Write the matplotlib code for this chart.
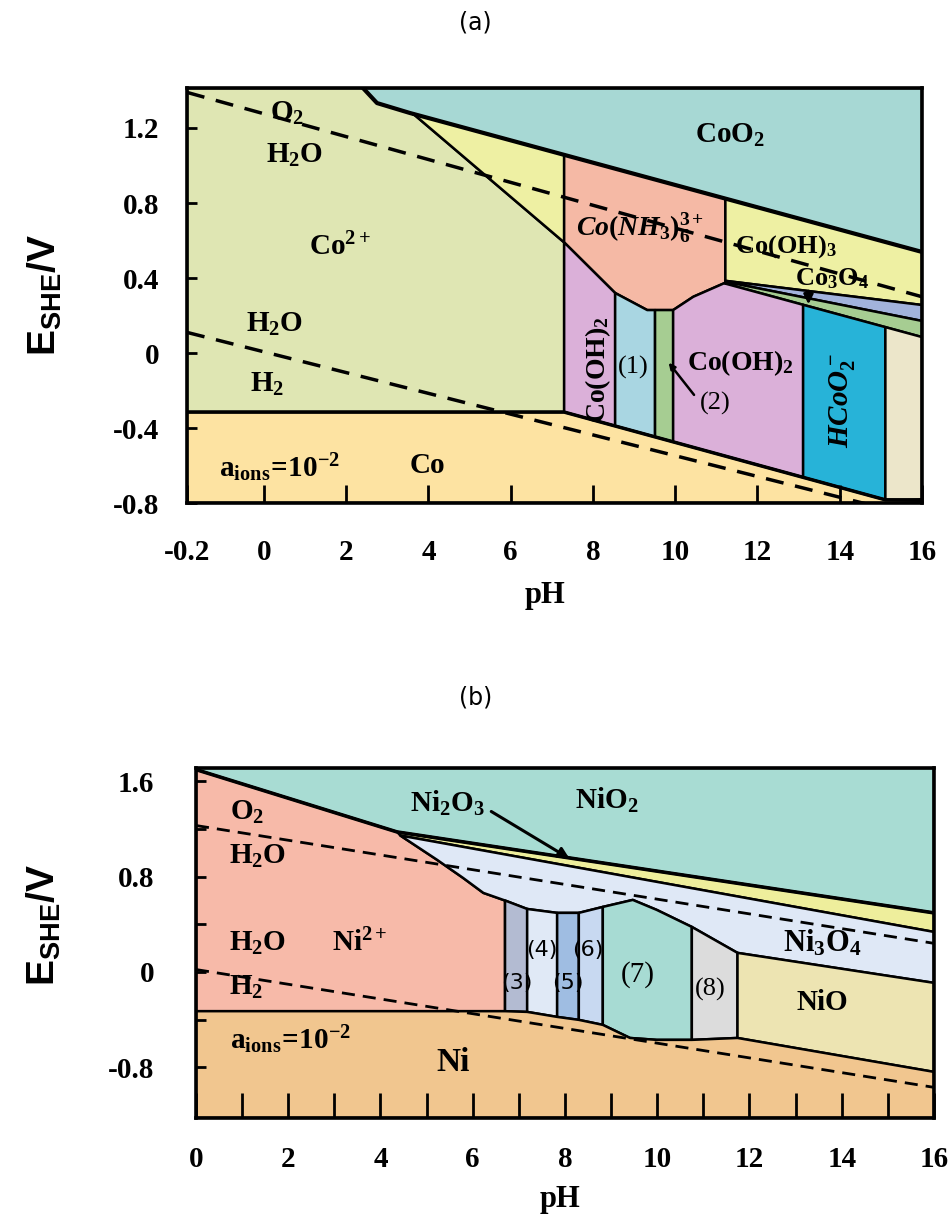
import matplotlib
matplotlib.use('Agg')
import matplotlib.pyplot as plt
from matplotlib.patches import Polygon

plt.rcParams.update({
    'mathtext.fontset': 'custom',
    'mathtext.rm': 'Liberation Serif:bold',
    'mathtext.it': 'Liberation Serif:italic:bold',
    'mathtext.bf': 'Liberation Serif:bold',
    'mathtext.sf': 'Liberation Sans:bold',
    'font.family': ['Liberation Serif', 'DejaVu Sans'],
})

# ------------------------------------------------------------------ data (a) Co
A_XLIM = (-1.87, 16.0)
A_YLIM = (-0.8, 1.413)
a_xticks = [-1.87, 0, 2, 4, 6, 8, 10, 12, 14, 16]
a_xticklabels = ['-0.2', '0', '2', '4', '6', '8', '10', '12', '14', '16']
a_yticks = [-0.8, -0.4, 0, 0.4, 0.8, 1.2]
a_yticklabels = ['-0.8', '-0.4', '0', '0.4', '0.8', '1.2']

a_CoO2 = [(2.41, 1.413), (16, 1.413), (16, 0.539), (3.55, 1.28), (2.75, 1.333)]
a_Co2p = [(-1.87, 1.413), (2.41, 1.413), (2.75, 1.333), (3.55, 1.28), (3.65, 1.272),
          (7.30, 0.59), (7.30, -0.315), (-1.87, -0.315)]
a_Y1 = [(3.55, 1.28), (7.30, 1.057), (7.30, 0.59), (3.65, 1.272)]
a_CoNH3 = [(7.30, 1.057), (11.22, 0.824), (11.22, 0.375), (10.44, 0.30), (9.95, 0.229),
           (9.32, 0.229), (8.54, 0.32), (7.30, 0.59)]
a_CoOH3 = [(11.22, 0.824), (16, 0.539), (16, 0.256), (11.22, 0.385)]
a_strip = [(11.22, 0.385), (16, 0.256), (16, 0.171), (11.22, 0.38)]
a_Co3O4 = [(11.22, 0.38), (16, 0.171), (16, 0.085), (11.22, 0.37)]
a_CoOH2L = [(7.30, 0.59), (8.54, 0.32), (8.54, -0.389), (7.30, -0.315)]
a_R1 = [(8.54, 0.32), (9.32, 0.229), (9.51, 0.229), (9.51, -0.447), (8.54, -0.389)]
a_R2 = [(9.51, 0.229), (9.95, 0.229), (9.95, -0.474), (9.51, -0.447)]
a_CoOH2R = [(9.95, 0.229), (10.44, 0.30), (11.22, 0.375), (11.22, 0.37), (13.11, 0.257),
            (13.11, -0.663), (9.95, -0.474)]
a_HCoO2 = [(13.11, 0.257), (15.11, 0.138), (15.11, -0.783), (13.11, -0.663)]
a_beige = [(15.11, 0.138), (16, 0.085), (16, -0.78), (15.11, -0.783)]
a_Co = [(-1.87, -0.8), (-1.87, -0.315), (7.30, -0.315), (15.11, -0.783), (16, -0.785), (16, -0.8)]

a_O2_line = [(-1.87, 1.39), (16, 0.30)]
a_H2_line = [(-1.87, 0.11), (16, -0.88)]
a_top_line = [(2.41, 1.413), (2.75, 1.333), (3.55, 1.28), (16, 0.539)]
a_co_line = [(-1.87, -0.315), (7.30, -0.315), (15.11, -0.783), (16, -0.785)]

# ------------------------------------------------------------------ data (b) Ni
B_XLIM = (0, 16)
B_YLIM = (-1.227, 1.714)
b_xticks = [0, 2, 4, 6, 8, 10, 12, 14, 16]
b_xticklabels = ['0', '2', '4', '6', '8', '10', '12', '14', '16']
b_xminor = [1, 3, 5, 7, 9, 11, 13, 15]
b_yticks = [-0.8, 0, 0.8, 1.6]
b_yticklabels = ['-0.8', '0', '0.8', '1.6']
b_yminor = [-0.4, 0.4, 1.2]

b_NiO2 = [(0, 1.714), (16, 1.714), (16, 0.496), (4.36, 1.176), (0, 1.70)]
b_Ni2O3 = [(4.36, 1.176), (16, 0.496), (16, 0.336), (4.43, 1.146)]
b_Ni2p = [(0, 1.70), (4.36, 1.176), (4.43, 1.146), (5.23, 0.941), (5.79, 0.79),
          (6.23, 0.664), (6.70, 0.60), (6.70, -0.33), (0, -0.33)]
b_Ni3O4 = [(4.43, 1.146), (16, 0.336), (16, -0.092), (11.74, 0.16), (10.75, 0.378),
           (9.99, 0.521), (9.47, 0.605), (8.82, 0.546), (8.30, 0.496), (7.83, 0.496),
           (7.18, 0.529), (6.70, 0.60), (6.23, 0.664), (5.79, 0.79), (5.23, 0.941)]
b_R3 = [(6.70, 0.60), (7.18, 0.529), (7.18, -0.336), (6.70, -0.33)]
b_R4 = [(7.18, 0.529), (7.83, 0.496), (7.83, -0.378), (7.18, -0.336)]
b_R5 = [(7.83, 0.496), (8.30, 0.496), (8.30, -0.403), (7.83, -0.378)]
b_R6 = [(8.30, 0.496), (8.82, 0.546), (8.82, -0.445), (8.30, -0.403)]
b_R7 = [(8.82, 0.546), (9.47, 0.605), (9.99, 0.521), (10.75, 0.378), (10.75, -0.571),
        (9.99, -0.571), (9.41, -0.555), (8.82, -0.445)]
b_R8 = [(10.75, 0.378), (11.74, 0.16), (11.74, -0.555), (10.75, -0.571)]
b_NiO = [(11.74, 0.16), (16, -0.092), (16, -0.84), (11.74, -0.555)]
b_Ni = [(0, -1.227), (0, -0.33), (6.70, -0.33), (7.18, -0.336), (7.83, -0.378), (8.30, -0.403),
        (8.82, -0.445), (9.41, -0.555), (9.99, -0.571), (10.75, -0.571), (11.74, -0.555),
        (16, -0.84), (16, -1.227)]

b_O2_line = [(0, 1.23), (16, 0.24)]
b_H2_line = [(0, 0.02), (16, -0.97)]
b_top_line = [(0, 1.70), (4.36, 1.176), (16, 0.496)]

# ------------------------------------------------------------------ figure
SER = dict(family='Liberation Serif', weight='bold')
fig = plt.figure(figsize=(9.51, 12.23), dpi=100)
axA = fig.add_axes([0.1966, 0.5887, 0.7729, 0.3393])
axB = fig.add_axes([0.2061, 0.0859, 0.776, 0.2862])


def region(ax, pts, color, lw=1.8):
    ax.add_patch(Polygon(pts, closed=True, facecolor=color, edgecolor='black',
                         lw=lw, joinstyle='round', zorder=1))


def line(ax, pts, lw=2.5, dashes=None, z=3):
    xs = [p[0] for p in pts]
    ys = [p[1] for p in pts]
    if dashes:
        ax.plot(xs, ys, color='black', lw=lw, ls=(0, dashes), zorder=z, solid_capstyle='butt')
    else:
        ax.plot(xs, ys, color='black', lw=lw, zorder=z, solid_joinstyle='round')


def label(ax, x, y, s, size=21, rot=0, **kw):
    d = dict(SER)
    d.update(kw)
    ax.text(x, y, s, fontsize=size, rotation=rot, ha='center', va='center', zorder=6, **d)


# ---------------- panel (a)
for pts, c in [(a_CoO2, '#a7d8d4'), (a_Co2p, '#dfe6b3'), (a_Y1, '#eef0a3'),
               (a_CoNH3, '#f5b9a5'), (a_CoOH3, '#eef0a3'), (a_strip, '#a2b3dc'),
               (a_Co3O4, '#a6cd92'), (a_CoOH2L, '#dbb0d9'), (a_R1, '#a9d6e2'),
               (a_R2, '#a6cd92'), (a_CoOH2R, '#dbb0d9'), (a_HCoO2, '#27b3d8'),
               (a_beige, '#ece6ca'), (a_Co, '#fde3a2')]:
    region(axA, pts, c)
line(axA, a_top_line, lw=3.0)
line(axA, a_co_line, lw=2.5)
line(axA, a_O2_line, lw=2.5, dashes=(5.2, 3.4))
line(axA, a_H2_line, lw=2.5, dashes=(5.2, 3.4))

axA.set_xlim(*A_XLIM)
axA.set_ylim(*A_YLIM)

label(axA, 0.56, 1.28, r'O$_2$')
label(axA, 0.75, 1.056, r'H$_2$O')
label(axA, 1.85, 0.565, r'Co$^{2+}$')
label(axA, 0.27, 0.15, r'H$_2$O')
label(axA, 0.07, -0.17, r'H$_2$')
label(axA, 0.39, -0.61, r'$\mathrm{a_{ions}\!=\!10^{-2}}$')
label(axA, 3.97, -0.60, 'Co')
label(axA, 11.34, 1.16, r'CoO$_2$')
label(axA, 9.15, 0.667, r'$Co(NH_3)_6^{3+}$', size=20)
label(axA, 12.70, 0.565, r'Co(OH)$_3$', size=19)
label(axA, 13.80, 0.395, r'Co$_3$O$_4$', size=19)
axA.annotate('', xy=(13.24, 0.245), xytext=(13.24, 0.345),
             arrowprops=dict(arrowstyle='-|>', lw=2, color='black', mutation_scale=14), zorder=6)
label(axA, 8.13, -0.09, r'Co(OH)$_2$', size=20, rot=90)
label(axA, 8.98, -0.075, '(1)', size=19, weight='normal')
label(axA, 11.58, -0.053, r'Co(OH)$_2$', size=20)
label(axA, 10.97, -0.267, '(2)', size=19, weight='normal')
axA.annotate('', xy=(9.80, -0.04), xytext=(10.50, -0.235),
             arrowprops=dict(arrowstyle='-|>', lw=1.8, color='black', mutation_scale=9), zorder=6)
label(axA, 14.06, -0.25, r'$HCoO_2^-$', size=21, rot=90)

axA.set_xticks(a_xticks)
axA.set_xticklabels(a_xticklabels)
axA.set_yticks(a_yticks)
axA.set_yticklabels(a_yticklabels)
axA.tick_params(axis='x', direction='in', length=13, width=2, pad=26, labelsize=21)
axA.tick_params(axis='y', direction='in', length=7, width=2, pad=20, labelsize=21)
for t in axA.get_xticklabels() + axA.get_yticklabels():
    t.set_fontfamily('Liberation Serif')
    t.set_fontweight('bold')
for s in axA.spines.values():
    s.set_linewidth(2.6)
    s.set_zorder(8)
axA.text(0.487, -0.222, 'pH', transform=axA.transAxes, fontsize=22, ha='center', va='center', **SER)
axA.text(-0.193, 0.50, r'$\mathsf{E_{SHE}/V}$', transform=axA.transAxes, fontsize=28,
         rotation=90, ha='center', va='center')
fig.text(0.5, 0.982, '(a)', family='DejaVu Sans', fontsize=17, ha='center', va='center')

# ---------------- panel (b)
for pts, c in [(b_NiO2, '#a8dcd3'), (b_Ni2O3, '#eeee9c'), (b_Ni2p, '#f7baa9'),
               (b_Ni3O4, '#dfe8f6'), (b_R3, '#b3bbd2'), (b_R4, '#e0e9f6'),
               (b_R5, '#9fbde2'), (b_R6, '#c8d9f1'), (b_R7, '#a7dbd3'),
               (b_R8, '#dcdcdc'), (b_NiO, '#ede4b2'), (b_Ni, '#f1c68f')]:
    region(axB, pts, c)
line(axB, b_top_line, lw=2.6)
line(axB, b_O2_line, lw=2.0, dashes=(4.7, 2.9))
line(axB, b_H2_line, lw=2.0, dashes=(4.7, 2.9))

axB.set_xlim(*B_XLIM)
axB.set_ylim(*B_YLIM)

label(axB, 1.10, 1.34, r'O$_2$')
label(axB, 1.34, 0.97, r'H$_2$O')
label(axB, 1.34, 0.24, r'H$_2$O')
label(axB, 3.55, 0.24, r'Ni$^{2+}$')
label(axB, 1.08, -0.13, r'H$_2$')
label(axB, 2.05, -0.57, r'$\mathrm{a_{ions}\!=\!10^{-2}}$')
label(axB, 5.58, -0.76, 'Ni', size=24)
label(axB, 5.45, 1.42, r'Ni$_2$O$_3$')
axB.annotate('', xy=(8.15, 0.94), xytext=(6.35, 1.36),
             arrowprops=dict(arrowstyle='-|>', lw=2.2, color='black', mutation_scale=16), zorder=6)
label(axB, 8.90, 1.445, r'NiO$_2$')
label(axB, 13.58, 0.244, r'Ni$_3$O$_4$', size=22)
label(axB, 13.58, -0.26, 'NiO')
label(axB, 6.96, -0.09, '(3)', size=16, weight='normal', family='DejaVu Sans')
label(axB, 7.50, 0.185, '(4)', size=16, weight='normal', family='DejaVu Sans')
label(axB, 8.06, -0.09, '(5)', size=16, weight='normal', family='DejaVu Sans')
label(axB, 8.50, 0.185, '(6)', size=16, weight='normal', family='DejaVu Sans')
label(axB, 9.58, -0.025, '(7)', size=21, weight='normal')
label(axB, 11.14, -0.15, '(8)', size=19, weight='normal')

axB.set_xticks(b_xticks)
axB.set_xticklabels(b_xticklabels)
axB.set_xticks(b_xminor, minor=True)
axB.set_yticks(b_yticks)
axB.set_yticklabels(b_yticklabels)
axB.set_yticks(b_yminor, minor=True)
axB.tick_params(axis='x', which='both', direction='in', length=18, width=2, pad=20, labelsize=21)
axB.tick_params(axis='y', which='both', direction='in', length=7, width=2, pad=30, labelsize=21)
for t in axB.get_xticklabels() + axB.get_yticklabels():
    t.set_fontfamily('Liberation Serif')
    t.set_fontweight('bold')
for s in axB.spines.values():
    s.set_linewidth(2.6)
    s.set_zorder(8)
axB.text(0.493, -0.234, 'pH', transform=axB.transAxes, fontsize=22, ha='center', va='center', **SER)
axB.text(-0.205, 0.55, r'$\mathsf{E_{SHE}/V}$', transform=axB.transAxes, fontsize=28,
         rotation=90, ha='center', va='center')
fig.text(0.5, 0.430, '(b)', family='DejaVu Sans', fontsize=17, ha='center', va='center')

fig.savefig('out.png', dpi=100)
